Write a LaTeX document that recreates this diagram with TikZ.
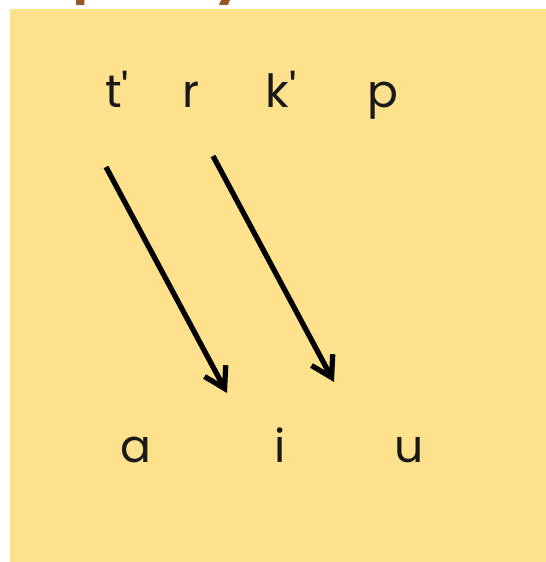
\documentclass[tikz,border=0pt]{standalone}
\usepackage{fontspec}
\setmainfont{Poppins}
\usepackage{tikz}
\usetikzlibrary{
    arrows.meta
}
\definecolor{pad}{RGB}{254,225,141}
\definecolor{titlebrown}{RGB}{150,88,30}
\tikzset{
    letter/.style={anchor=base, inner sep=0pt, text=black!90,
        font=\fontsize{26}{30}\selectfont},
    soundshift/.style={line width=3pt, -{Straight Barb[length=4mm,width=4.8mm]}}
}

\begin{document}
\begin{tikzpicture}[x=0.02cm,y=-0.02cm]
\useasboundingbox (0,0) rectangle (546,562);
\fill[pad] (10,9) rectangle (546,562);
\node[anchor=base west, inner sep=0pt, text=titlebrown,
    font=\fontsize{28}{32}\selectfont\bfseries] (title) at (-24,-8) {Frequency};
% onset consonants
\node[letter] (t) at (117,107) {t\textquotesingle};
\node[letter] (r) at (191,107) {r};
\node[letter] (k) at (281,107) {k\textquotesingle};
\node[letter] (p) at (383,107) {p};
% vowels
\node[letter] (a) at (136,462) {a};
\node[letter] (i) at (280,462) {i};
\node[letter] (u) at (409,462) {u};
% shifts
\coordinate (tfrom) at (106,167);
\coordinate (tto) at (227,393);
\coordinate (kfrom) at (213,156);
\coordinate (kto) at (334,382);
\draw[soundshift] (tfrom) -- (tto);
\draw[soundshift] (kfrom) -- (kto);
\end{tikzpicture}
\end{document}
